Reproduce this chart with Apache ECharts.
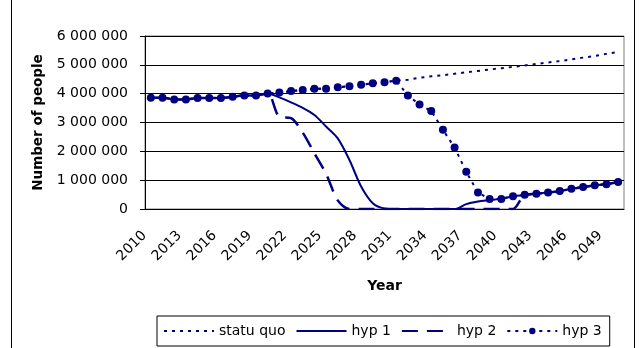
<!DOCTYPE html>
<html>
<head>
<meta charset="utf-8">
<script src="https://cdn.jsdelivr.net/npm/echarts@6/dist/echarts.min.js"></script>
<style>
  html, body { margin: 0; padding: 0; background: #fff; }
  #chart { width: 640px; height: 348px; }
</style>
</head>
<body>
<div id="chart"></div>
<script>
'use strict';
var years = ['2010','2011','2012','2013','2014','2015','2016','2017','2018','2019',
  '2020','2021','2022','2023','2024','2025','2026','2027','2028','2029',
  '2030','2031','2032','2033','2034','2035','2036','2037','2038','2039',
  '2040','2041','2042','2043','2044','2045','2046','2047','2048','2049','2050'];

// people
var statuQuo = [3860000,3860000,3800000,3800000,3850000,3850000,3850000,3890000,3940000,3940000,
  4010000,4040000,4090000,4130000,4170000,4170000,4220000,4260000,4310000,4360000,
  4400000,4450000,4480000,4550000,4600000,4640000,4690000,4740000,4790000,4840000,
  4880000,4930000,4980000,5030000,5080000,5130000,5190000,5250000,5310000,5380000,5450000];
var hyp1 = [3860000,3860000,3800000,3800000,3850000,3850000,3850000,3890000,3940000,3940000,
  4010000,3870000,3700000,3510000,3260000,2860000,2450000,1700000,780000,200000,
  20000,0,0,0,0,0,0,170000,260000,310000,
  360000,440000,490000,530000,570000,620000,700000,760000,820000,860000,940000];
var hyp2 = [3860000,3860000,3800000,3800000,3850000,3850000,3850000,3890000,3940000,3940000,
  4010000,3200000,3150000,2650000,1930000,1220000,300000,0,0,0,
  0,0,0,0,0,0,0,0,0,0,
  0,0,490000,530000,570000,620000,700000,760000,820000,860000,940000];
var hyp3 = [3860000,3860000,3800000,3800000,3850000,3850000,3850000,3890000,3940000,3940000,
  4010000,4040000,4090000,4130000,4170000,4170000,4220000,4260000,4310000,4360000,
  4400000,4450000,3940000,3620000,3400000,2750000,2130000,1290000,570000,350000,
  350000,440000,490000,530000,570000,620000,700000,760000,820000,860000,940000];

var NAVY = '#000080';
var FONT = 'DejaVu Sans, sans-serif';

function spaced(v) {
  return String(v).replace(/\B(?=(\d{3})+(?!\d))/g, ' ');
}

var noDot = { opacity: 0 };

var chart = echarts.init(document.getElementById('chart'));
chart.setOption({
  animation: false,
  textStyle: { fontFamily: FONT, color: '#000' },
  graphic: [{
    type: 'rect',
    shape: { x: 11.5, y: -2, width: 623, height: 353 },
    style: { fill: 'none', stroke: '#000', lineWidth: 1 },
    silent: true
  }],
  grid: {
    left: 145, right: 16, top: 36, bottom: 139,
    show: true, borderColor: '#808080', borderWidth: 1
  },
  legend: {
    left: 157, top: 316,
    itemWidth: 50, itemHeight: 8, itemGap: 10,
    padding: [8, 8, 8, 6],
    borderColor: '#000', borderWidth: 1,
    textStyle: { fontFamily: FONT, fontSize: 14, color: '#000' },
    data: [
      { name: 'statu quo', itemStyle: noDot },
      { name: 'hyp 1', itemStyle: noDot },
      { name: 'hyp 2', itemStyle: noDot },
      { name: 'hyp 3' }
    ]
  },
  xAxis: {
    type: 'category',
    data: years,
    boundaryGap: true,
    name: 'Year',
    nameLocation: 'middle',
    nameGap: 70,
    nameTextStyle: { fontFamily: FONT, fontSize: 14, fontWeight: 'bold', color: '#000' },
    axisLine: { lineStyle: { color: '#000', width: 1 } },
    axisTick: { interval: 0, length: 5, lineStyle: { color: '#000' } },
    axisLabel: { interval: 2, rotate: 45, fontSize: 14, color: '#000', margin: 18, padding: [0, 9, 0, 0] },
    splitLine: { show: false }
  },
  yAxis: {
    type: 'value',
    min: 0, max: 6000000, interval: 1000000,
    name: 'Number of people',
    nameLocation: 'middle',
    nameGap: 100,
    nameTextStyle: { fontFamily: FONT, fontSize: 13.5, fontWeight: 'bold', color: '#000' },
    axisLine: { show: true, lineStyle: { color: '#000', width: 1 } },
    axisTick: { show: true, length: 5, lineStyle: { color: '#000' } },
    axisLabel: { fontSize: 14, color: '#000', margin: 17, formatter: spaced },
    splitLine: { lineStyle: { color: '#000', width: 1 } }
  },
  series: [
    {
      name: 'statu quo', type: 'line', data: statuQuo, symbol: 'none',
      lineStyle: { color: NAVY, width: 2, type: [3, 5] },
      itemStyle: { color: NAVY }
    },
    {
      name: 'hyp 1', type: 'line', data: hyp1, symbol: 'none', smooth: 0.3,
      lineStyle: { color: NAVY, width: 2 },
      itemStyle: { color: NAVY }
    },
    {
      name: 'hyp 2', type: 'line', data: hyp2, symbol: 'none', smooth: 0.3,
      lineStyle: { color: NAVY, width: 2.5, type: [16, 9] },
      itemStyle: { color: NAVY }
    },
    {
      name: 'hyp 3', type: 'line', data: hyp3, symbol: 'circle', symbolSize: 8,
      showAllSymbol: true,
      lineStyle: { color: NAVY, width: 2, type: [3, 5] },
      itemStyle: { color: NAVY }
    }
  ]
});
</script>
</body>
</html>
